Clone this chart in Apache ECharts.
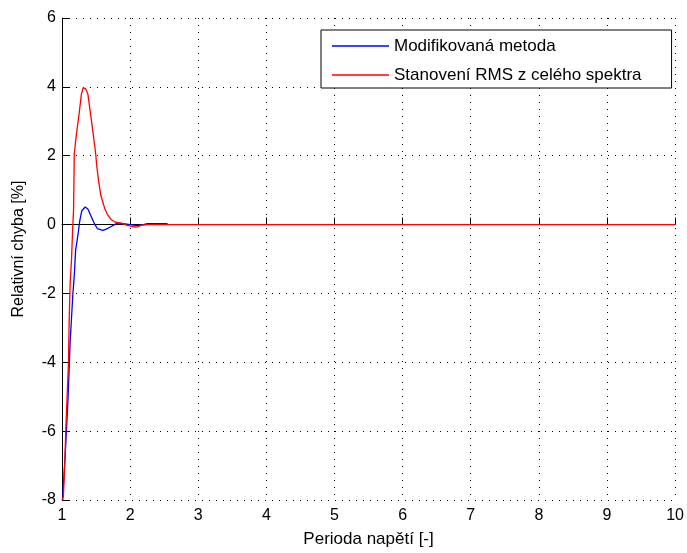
<!DOCTYPE html>
<html><head><meta charset="utf-8">
<script src="https://cdn.jsdelivr.net/npm/echarts@6/dist/echarts.min.js"></script>
<style>html,body{margin:0;padding:0;background:#fff}#c{width:687px;height:553px}</style>
</head><body><div id="c"></div>
<script>
var seriesNames = ['Modifikovaná metoda', 'Stanovení RMS z celého spektra'];
var xTicks = [1,2,3,4,5,6,7,8,9,10];
var yTicks = [-8,-6,-4,-2,0,2,4,6];
var xBlue = [1.01,1.02,1.04,1.055,1.07,1.09,1.105,1.12,1.14,1.16,1.18,1.2,1.237,1.26,1.29,1.34,1.38,1.42,1.47,1.52,1.6,1.65,1.71,1.77,1.82,1.9,2.0,2.1,2.2,2.25,2.55];
var yBlue = [-8,-7.6,-6.9,-6.4,-5.8,-5.0,-4.2,-3.4,-2.7,-2.0,-1.5,-0.75,-0.26,0.1,0.4,0.51,0.45,0.27,0.05,-0.12,-0.17,-0.13,-0.07,0.0,0.05,0.03,0.0,-0.03,0.0,0.03,0.03];
var xRed = [1.0,1.02,1.04,1.055,1.075,1.095,1.105,1.12,1.14,1.155,1.17,1.18,1.21,1.25,1.285,1.31,1.325,1.345,1.38,1.42,1.46,1.495,1.51,1.54,1.57,1.6,1.63,1.67,1.72,1.77,1.85,1.96,2.06,2.12,2.16,2.25,10];
var yRed = [-8,-7.9,-7.0,-6.0,-5.0,-4.0,-2.8,-1.7,-1.0,-0.2,0.45,2.05,2.6,3.2,3.79,3.97,4.0,3.95,3.79,3.2,2.6,2.05,1.7,1.23,0.85,0.65,0.45,0.28,0.15,0.08,0.05,-0.02,-0.07,-0.06,-0.02,0,0];

function pairs(xs, ys){ return xs.map(function(x,i){ return [x, ys[i]]; }); }

var font = 'Liberation Sans, Arial, sans-serif';
var chart = echarts.init(document.getElementById('c'), null, {renderer:'canvas'});
var dotted = {color:'#000', width:1, type:[1,6]};
chart.setOption({
  animation:false,
  backgroundColor:'#fff',
  textStyle:{fontFamily:font},
  grid:{left:62, top:18, right:10, bottom:50, containLabel:false},
  legend:{
    data:seriesNames, orient:'vertical', left:321, top:30,
    borderColor:'#000', borderWidth:1, backgroundColor:'#fff',
    icon:'rect', itemWidth:57, itemHeight:1.5, itemGap:11,
    padding:[7,30,4,11],
    textStyle:{fontFamily:font, fontSize:17, lineHeight:18, color:'#000'}
  },
  xAxis:{
    type:'value', min:xTicks[0], max:xTicks[xTicks.length-1], interval:1,
    name:'Perioda napětí [-]', nameLocation:'middle', nameGap:31,
    nameTextStyle:{fontFamily:font, fontSize:17, color:'#000'},
    axisLine:{show:true, lineStyle:{color:'#000', width:1}},
    axisTick:{show:true, inside:true, length:7, lineStyle:{color:'#000'}},
    axisLabel:{fontFamily:font, fontSize:16, color:'#000', margin:8},
    splitLine:{show:true, lineStyle:dotted}
  },
  yAxis:{
    type:'value', min:yTicks[0], max:yTicks[yTicks.length-1], interval:2,
    name:'Relativní chyba [%]', nameLocation:'middle', nameGap:35,
    nameTextStyle:{fontFamily:font, fontSize:16, color:'#000', padding:[0,0,0,20]},
    axisLine:{show:true, lineStyle:{color:'#000', width:1}},
    axisTick:{show:true, inside:true, length:7, lineStyle:{color:'#000'}},
    axisLabel:{fontFamily:font, fontSize:16, color:'#000', margin:6},
    splitLine:{show:true, lineStyle:dotted}
  },
  series:[
    {name:seriesNames[0], type:'line', data:pairs(xBlue,yBlue), symbol:'none', lineStyle:{color:'#0000ff', width:1.3}, itemStyle:{color:'#0000ff'}},
    {name:seriesNames[1], type:'line', data:pairs(xRed,yRed), symbol:'none', lineStyle:{color:'#ff0000', width:1.3}, itemStyle:{color:'#ff0000'}}
  ]
});
</script></body></html>
